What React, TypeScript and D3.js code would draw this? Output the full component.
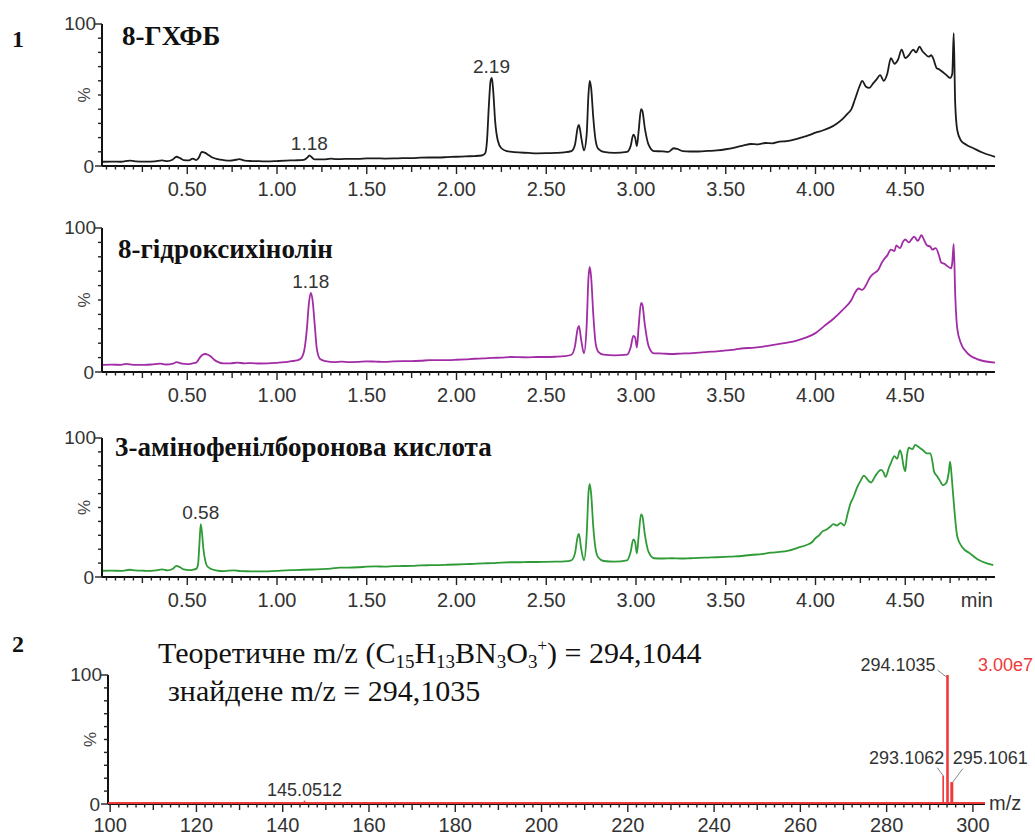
import React from 'react';
import * as d3 from 'd3';

const W = 1035;
const H = 836;
const SANS = '"Liberation Sans", Arial, sans-serif';
const SERIF = '"Liberation Serif", "Times New Roman", serif';

// retention time (min) vs relative intensity (%)
const gxfbTrace: [number, number][] = [
  [0.03, 3], [0.08, 3.1], [0.13, 3.0], [0.18, 3.8], [0.21, 3.3], [0.27, 3.1], [0.32, 3.3], [0.36, 3.9],
  [0.39, 3.4], [0.42, 4.6], [0.44, 6.5], [0.46, 5.5], [0.48, 4.2], [0.51, 3.9], [0.53, 5.2], [0.55, 4.2],
  [0.565, 6], [0.58, 10], [0.6, 9.2], [0.62, 7.6], [0.64, 6], [0.67, 4.8], [0.7, 4.2], [0.74, 3.8],
  [0.77, 4.4], [0.79, 4.8], [0.82, 3.8], [0.86, 3.5], [0.9, 3.4], [0.95, 3.2], [1.0, 3.5], [1.05, 3.8],
  [1.1, 4.0], [1.15, 4.3], [1.17, 6], [1.18, 7.5], [1.195, 6], [1.21, 4.6], [1.26, 4.6], [1.3, 5.2],
  [1.33, 4.8], [1.38, 5], [1.45, 5.0], [1.5, 5.3], [1.55, 5.4], [1.6, 5.2], [1.65, 5.3], [1.7, 5.6],
  [1.75, 5.6], [1.8, 5.9], [1.85, 6.0], [1.9, 6.0], [1.95, 6.3], [2.0, 6.5], [2.05, 6.8], [2.1, 7.0],
  [2.14, 7.4], [2.16, 9], [2.17, 18], [2.18, 42], [2.19, 60], [2.197, 62], [2.205, 52], [2.215, 32],
  [2.23, 18], [2.25, 12.5], [2.28, 10.5], [2.32, 9.8], [2.4, 9.2], [2.45, 8.9], [2.5, 9.0], [2.55, 9.2],
  [2.6, 9.6], [2.64, 10.5], [2.66, 15], [2.675, 27], [2.682, 29], [2.695, 20], [2.71, 11], [2.725, 22],
  [2.735, 50], [2.742, 60], [2.75, 55], [2.762, 34], [2.775, 18], [2.79, 12], [2.82, 10], [2.88, 9.3],
  [2.95, 10], [2.97, 14], [2.985, 22], [2.995, 20], [3.005, 14], [3.015, 25], [3.028, 40], [3.035, 39],
  [3.05, 26], [3.07, 15], [3.1, 10.5], [3.15, 10.3], [3.18, 10], [3.21, 12.5], [3.23, 12], [3.26, 10.5],
  [3.3, 10.2], [3.35, 10.2], [3.4, 10.6], [3.45, 11], [3.5, 11.8], [3.55, 13], [3.6, 14.5], [3.64, 15.5],
  [3.68, 15.2], [3.72, 16.2], [3.76, 16], [3.8, 17.2], [3.84, 17.5], [3.88, 18.5], [3.92, 20], [3.96, 21.5],
  [4.0, 23.5], [4.04, 25], [4.08, 27], [4.12, 30], [4.15, 33], [4.18, 37], [4.2, 40], [4.22, 47],
  [4.245, 56], [4.26, 60], [4.28, 56], [4.3, 55], [4.32, 58], [4.34, 61], [4.36, 64], [4.38, 60],
  [4.4, 65], [4.42, 76], [4.44, 72], [4.46, 75], [4.48, 82], [4.5, 76], [4.52, 78], [4.545, 82],
  [4.56, 80], [4.58, 84], [4.595, 81], [4.61, 79], [4.63, 77], [4.645, 78], [4.655, 76], [4.675, 69],
  [4.69, 68], [4.71, 66], [4.73, 64], [4.75, 62], [4.762, 65], [4.77, 93.5], [4.778, 45], [4.79, 25],
  [4.81, 18], [4.84, 15], [4.88, 12.5], [4.93, 9.5], [5.0, 6.5],
];

const hqTrace: [number, number][] = [
  [0.03, 5], [0.08, 5.1], [0.13, 5], [0.16, 5.6], [0.2, 5], [0.26, 5], [0.3, 5.2], [0.35, 5.8],
  [0.38, 5.2], [0.42, 5.8], [0.44, 6.8], [0.47, 5.8], [0.5, 5.5], [0.53, 6], [0.55, 6.5], [0.57, 10],
  [0.585, 12], [0.6, 12.5], [0.615, 12], [0.63, 11], [0.65, 8.5], [0.67, 7], [0.7, 6], [0.74, 6],
  [0.78, 6.5], [0.82, 6], [0.86, 6.2], [0.9, 5.9], [0.95, 6], [1.0, 6.4], [1.04, 6.8], [1.08, 7.5],
  [1.11, 8], [1.13, 9], [1.15, 14], [1.165, 28], [1.178, 48], [1.188, 55], [1.198, 50], [1.21, 33],
  [1.222, 16], [1.24, 9], [1.27, 7.5], [1.32, 6.8], [1.36, 7.2], [1.4, 6.8], [1.45, 7], [1.5, 7.4],
  [1.55, 7.2], [1.6, 7.0], [1.65, 7.4], [1.7, 7.6], [1.75, 7.6], [1.8, 7.8], [1.85, 8.2], [1.9, 8.3],
  [1.95, 8.3], [2.0, 8.5], [2.05, 8.8], [2.1, 9.2], [2.15, 9.4], [2.2, 9.8], [2.25, 10], [2.3, 10.4],
  [2.35, 10.3], [2.4, 10.2], [2.45, 10.4], [2.5, 10.4], [2.55, 10.6], [2.6, 11], [2.64, 12], [2.66, 18],
  [2.675, 30], [2.682, 32], [2.695, 22], [2.71, 13], [2.725, 32], [2.735, 65], [2.742, 73], [2.75, 66],
  [2.762, 40], [2.775, 20], [2.79, 14], [2.82, 12], [2.88, 11.5], [2.95, 12], [2.97, 17], [2.985, 25],
  [2.995, 24], [3.005, 17], [3.015, 32], [3.028, 48], [3.035, 47], [3.05, 32], [3.07, 18], [3.1, 13],
  [3.15, 12.8], [3.2, 12.5], [3.25, 12.8], [3.3, 13], [3.35, 13.5], [3.4, 14], [3.45, 14.3], [3.5, 15],
  [3.55, 15.6], [3.6, 16.5], [3.65, 16.8], [3.7, 17.5], [3.75, 18.5], [3.8, 19.5], [3.85, 20.5], [3.9, 22],
  [3.95, 24], [4.0, 27], [4.05, 32], [4.1, 37], [4.15, 43], [4.2, 50], [4.22, 55], [4.24, 58],
  [4.26, 57], [4.28, 60], [4.3, 65], [4.32, 68], [4.35, 71], [4.37, 76], [4.38, 78], [4.4, 81],
  [4.42, 85], [4.44, 84], [4.45, 88], [4.47, 86], [4.49, 91], [4.5, 92], [4.52, 90], [4.54, 93],
  [4.55, 94], [4.57, 91], [4.59, 95], [4.6, 93], [4.62, 88], [4.64, 87], [4.65, 85], [4.67, 86],
  [4.69, 80], [4.7, 76], [4.72, 75], [4.73, 74], [4.755, 72], [4.762, 76], [4.77, 89], [4.778, 55],
  [4.79, 30], [4.81, 20], [4.84, 14], [4.9, 9], [5.0, 6.5],
];

const apbaTrace: [number, number][] = [
  [0.03, 4.5], [0.08, 4.6], [0.13, 4.4], [0.18, 5.2], [0.21, 4.7], [0.26, 4.5], [0.3, 4.4], [0.33, 4.8],
  [0.36, 5.5], [0.39, 4.8], [0.42, 6], [0.44, 8], [0.46, 7], [0.48, 5.5], [0.51, 5.0], [0.53, 5.2],
  [0.55, 5.8], [0.56, 9], [0.567, 22], [0.575, 38], [0.582, 32], [0.59, 20], [0.6, 12], [0.61, 8],
  [0.63, 6], [0.66, 4.8], [0.7, 4.2], [0.73, 4.6], [0.76, 4.8], [0.8, 4.2], [0.85, 4.1], [0.9, 4.0],
  [0.95, 4.1], [1.0, 4.4], [1.05, 4.8], [1.1, 5], [1.15, 5.2], [1.2, 5.4], [1.25, 5.6], [1.3, 6],
  [1.35, 6.8], [1.4, 6.8], [1.45, 7], [1.5, 7.4], [1.55, 7.6], [1.6, 7.5], [1.65, 7.8], [1.7, 7.9],
  [1.75, 8.0], [1.8, 8.3], [1.85, 8.5], [1.9, 8.6], [1.95, 8.8], [2.0, 9.0], [2.05, 9.2], [2.1, 9.5],
  [2.15, 9.8], [2.2, 10], [2.25, 10.4], [2.3, 10.6], [2.35, 10.6], [2.4, 10.8], [2.45, 10.8], [2.5, 10.9],
  [2.55, 11], [2.6, 11.2], [2.64, 12], [2.66, 17], [2.675, 29], [2.682, 31], [2.695, 20], [2.71, 12],
  [2.725, 30], [2.735, 60], [2.742, 67], [2.75, 60], [2.762, 36], [2.775, 20], [2.79, 14], [2.82, 11.5],
  [2.88, 11], [2.95, 12], [2.97, 18], [2.985, 27], [2.995, 25], [3.005, 17], [3.015, 30], [3.028, 45],
  [3.035, 44], [3.05, 30], [3.07, 18], [3.1, 13.5], [3.15, 13.3], [3.2, 13.5], [3.25, 13.3], [3.3, 13.5],
  [3.35, 13.8], [3.4, 14], [3.45, 14.2], [3.5, 14.5], [3.55, 14.8], [3.6, 15.3], [3.65, 16], [3.7, 16.5],
  [3.75, 17.5], [3.8, 18], [3.85, 19], [3.9, 21], [3.95, 23], [3.98, 25], [4.0, 28], [4.02, 30],
  [4.04, 33], [4.06, 34], [4.08, 36], [4.1, 38], [4.12, 37], [4.14, 39], [4.16, 37], [4.18, 46],
  [4.195, 53], [4.21, 57], [4.23, 64], [4.25, 69], [4.27, 73], [4.29, 70], [4.31, 68], [4.33, 72],
  [4.34, 74], [4.365, 77], [4.38, 75], [4.39, 72], [4.41, 79], [4.42, 82], [4.44, 87], [4.455, 85],
  [4.47, 91], [4.48, 88], [4.49, 80], [4.5, 76], [4.51, 88], [4.52, 93], [4.54, 92], [4.555, 95],
  [4.58, 93], [4.6, 91], [4.62, 89], [4.64, 89], [4.655, 80], [4.66, 76], [4.68, 72], [4.69, 70],
  [4.71, 66], [4.73, 68], [4.742, 75], [4.75, 83], [4.76, 70], [4.77, 54], [4.79, 29], [4.82, 21],
  [4.86, 17], [4.9, 13], [4.93, 11], [4.99, 8.6],
];

const rtLabelTicks = [0.5, 1.0, 1.5, 2.0, 2.5, 3.0, 3.5, 4.0, 4.5];

// mass spectrum sticks: m/z vs relative intensity (%)
const msSticks: [number, number][] = [
  [113.1, 0.6], [131.0, 0.5], [145.0512, 2.6], [170.1, 0.5], [186.1, 0.5], [200.0, 0.6],
  [222.1, 1.3], [250.1, 1.3], [262.0, 0.5], [276.1, 1.0], [284.0, 0.6],
  [293.1062, 22], [294.1035, 100], [295.1061, 17], [296.1, 1.5],
];
const msLabelTicks = [100, 120, 140, 160, 180, 200, 220, 240, 260, 280, 300];

function Chromatogram(props: {
  trace: [number, number][];
  color: string;
  top: number;
  bottom: number;
  title: string;
  titleX: number;
  titleY: number;
  peaks: { t: number; text: string }[];
  showUnit?: boolean;
}) {
  const { trace, color, top, bottom, title, titleX, titleY, peaks, showUnit } = props;
  const x = d3.scaleLinear().domain([0.025, 5.0]).range([102, 995]);
  const y = d3.scaleLinear().domain([0, 100]).range([bottom, top]);
  const line = d3.line<[number, number]>().x(d => x(d[0])).y(d => y(d[1])).curve(d3.curveMonotoneX);
  const ax = x(0.025);
  const minor = d3.range(1, 100);

  return (
    <g>
      <path d={line(trace) || ''} fill="none" stroke={color} strokeWidth={1.8} strokeLinejoin="round" />
      {/* axes */}
      <line x1={ax} x2={ax} y1={top} y2={bottom} stroke="#111" strokeWidth={2} />
      <line x1={ax} x2={x(5.0)} y1={bottom} y2={bottom} stroke="#111" strokeWidth={2} />
      {minor.map(i => {
        const len = i % 10 === 0 ? 8 : i % 5 === 0 ? 6 : 3.5;
        return <line key={i} x1={x(i / 20)} x2={x(i / 20)} y1={bottom} y2={bottom + len} stroke="#222" strokeWidth={1.4} />;
      })}
      {rtLabelTicks.map(t => (
        <text key={t} x={x(t)} y={bottom + 30} textAnchor="middle" fontFamily={SANS} fontSize={20} fill="#333">
          {d3.format('.2f')(t)}
        </text>
      ))}
      {d3.range(0, 101, 10).map(v => (
        <line key={v} x1={ax - (v % 100 === 0 ? 7 : 4)} x2={ax} y1={y(v)} y2={y(v)} stroke="#222" strokeWidth={1.4} />
      ))}
      <text x={ax - 6} y={y(100) + 6} textAnchor="end" fontFamily={SANS} fontSize={19} fill="#333">100</text>
      <text x={ax - 8} y={y(0) + 7} textAnchor="end" fontFamily={SANS} fontSize={19} fill="#333">0</text>
      <text transform={`translate(${ax - 12},${y(50)}) rotate(-90)`} textAnchor="middle" fontFamily={SANS} fontSize={17} fill="#444">%</text>
      {showUnit && (
        <text x={993} y={bottom + 30} textAnchor="end" fontFamily={SANS} fontSize={20} fill="#333">min</text>
      )}
      <text x={titleX} y={titleY} fontFamily={SERIF} fontWeight="bold" fontSize={27} fill="#111">{title}</text>
      {peaks.map(p => {
        const near = trace.filter(d => Math.abs(d[0] - p.t) < 0.03);
        const peakTop = d3.max(near, d => d[1]) ?? 0;
        return (
          <text key={p.text} x={x(p.t)} y={y(peakTop) - 5} textAnchor="middle" fontFamily={SANS} fontSize={19} fill="#333">
            {p.text}
          </text>
        );
      })}
    </g>
  );
}

function MassSpectrum() {
  const top = 675;
  const bottom = 804;
  const x = d3.scaleLinear().domain([99.5, 302.8]).range([108, 985]);
  const y = d3.scaleLinear().domain([0, 100]).range([bottom, top]);
  const ax = x(99.5);
  const red = '#ee3a3a';
  const minor = d3.range(100, 302, 2);
  const peakY = (mz: number) => y(msSticks.find(d => d[0] === mz)![1]);
  const px = x(294.1035);

  return (
    <g>
      <line x1={ax} x2={ax} y1={top} y2={bottom} stroke="#111" strokeWidth={2} />
      <line x1={ax} x2={x(302.8)} y1={bottom} y2={bottom} stroke="#111" strokeWidth={2} />
      {minor.map(v => {
        const len = v % 20 === 0 ? 8 : v % 10 === 0 ? 6 : 3.5;
        return <line key={v} x1={x(v)} x2={x(v)} y1={bottom} y2={bottom + len} stroke="#222" strokeWidth={1.4} />;
      })}
      <line x1={ax} x2={x(302.8)} y1={bottom - 1} y2={bottom - 1} stroke={red} strokeWidth={2} />
      {msSticks.map(d => (
        <line key={d[0]} x1={x(d[0])} x2={x(d[0])} y1={bottom} y2={y(d[1])} stroke={red}
          strokeWidth={d[1] > 50 ? 2.6 : d[0] > 295 && d[1] > 10 ? 3 : 1.6} />
      ))}
      {msLabelTicks.map(v => (
        <text key={v} x={x(v)} y={bottom + 28} textAnchor="middle" fontFamily={SANS} fontSize={20} fill="#333">{v}</text>
      ))}
      {d3.range(0, 101, 10).map(v => (
        <line key={v} x1={ax - (v % 100 === 0 ? 7 : 4)} x2={ax} y1={y(v)} y2={y(v)} stroke="#222" strokeWidth={1.4} />
      ))}
      <text x={ax - 6} y={y(100) + 6} textAnchor="end" fontFamily={SANS} fontSize={19} fill="#333">100</text>
      <text x={ax - 8} y={y(0) + 7} textAnchor="end" fontFamily={SANS} fontSize={19} fill="#333">0</text>
      <text transform={`translate(${ax - 12},${y(50)}) rotate(-90)`} textAnchor="middle" fontFamily={SANS} fontSize={17} fill="#444">%</text>
      <text x={989} y={bottom + 6} fontFamily={SANS} fontSize={20} fill="#333">m/z</text>

      {/* peak annotations */}
      <text x={x(145.0512)} y={peakY(145.0512) - 5} textAnchor="middle" fontFamily={SANS} fontSize={18} fill="#333">145.0512</text>
      <text x={px - 12} y={y(100) - 4} textAnchor="end" fontFamily={SANS} fontSize={18} fill="#333">294.1035</text>
      <line x1={px - 10} y1={y(100) - 5} x2={px - 1} y2={y(100) + 2} stroke="#888" strokeWidth={1} />
      <text x={x(293.1062) + 1} y={peakY(293.1062) - 12} textAnchor="end" fontFamily={SANS} fontSize={18} fill="#333">293.1062</text>
      <line x1={x(293.1062) - 6} y1={peakY(293.1062) - 8} x2={x(293.1062)} y2={peakY(293.1062)} stroke="#888" strokeWidth={1} />
      <text x={x(295.1061) + 1} y={peakY(293.1062) - 12} fontFamily={SANS} fontSize={18} fill="#333">295.1061</text>
      <line x1={x(295.1061) + 11} y1={peakY(293.1062) - 7} x2={x(295.1061) + 1} y2={peakY(295.1061)} stroke="#888" strokeWidth={1} />
      <text x={1033} y={y(100) - 4} textAnchor="end" fontFamily={SANS} fontSize={18} fill={red}>3.00e7</text>

      {/* formula text */}
      <text x={158} y={663} fontFamily={SERIF} fontSize={30} fill="#111">
        Теоретичне m/z (C<tspan dy={5} fontSize={19}>15</tspan><tspan dy={-5}>H</tspan>
        <tspan dy={5} fontSize={19}>13</tspan><tspan dy={-5}>BN</tspan>
        <tspan dy={5} fontSize={19}>3</tspan><tspan dy={-5}>O</tspan>
        <tspan dy={5} fontSize={19}>3</tspan><tspan dy={-17} fontSize={17}>+</tspan>
        <tspan dy={12}>) = 294,1044</tspan>
      </text>
      <text x={168} y={701} fontFamily={SERIF} fontSize={30} fill="#111">знайдене m/z = 294,1035</text>
    </g>
  );
}

export default function App() {
  return (
    <svg width={W} height={H} viewBox={`0 0 ${W} ${H}`}
      style={{ position: 'absolute', left: 0, top: 0, background: '#fff' }}>
      <rect width={W} height={H} fill="#fff" />
      <text x={12} y={47} fontFamily={SERIF} fontWeight="bold" fontSize={24} fill="#111">1</text>
      <text x={12} y={652} fontFamily={SERIF} fontWeight="bold" fontSize={24} fill="#111">2</text>
      <Chromatogram trace={gxfbTrace} color="#1c1c1c" top={24} bottom={166}
        title="8-ГХФБ" titleX={122} titleY={45}
        peaks={[{ t: 1.18, text: '1.18' }, { t: 2.195, text: '2.19' }]} />
      <Chromatogram trace={hqTrace} color="#a12ca6" top={228} bottom={372}
        title="8-гідроксихінолін" titleX={118} titleY={258}
        peaks={[{ t: 1.188, text: '1.18' }]} />
      <Chromatogram trace={apbaTrace} color="#2f9b37" top={438} bottom={577}
        title="3-амінофенілборонова кислота" titleX={115} titleY={456}
        peaks={[{ t: 0.575, text: '0.58' }]} showUnit />
      <MassSpectrum />
    </svg>
  );
}
